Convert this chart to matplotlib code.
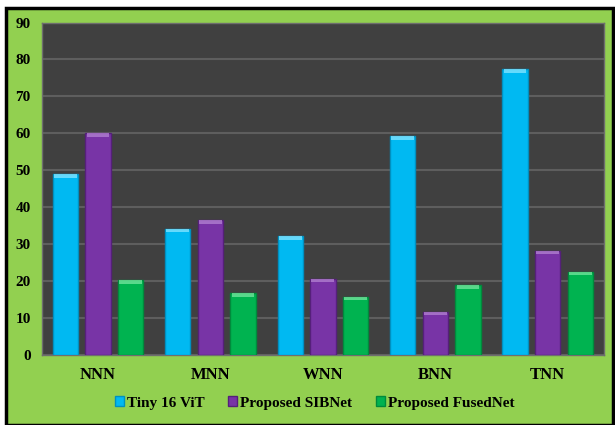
import numpy as np
import matplotlib.pyplot as plt
from matplotlib.patches import Rectangle

# Datos del grafico
categorias = ['NNN', 'MNN', 'WNN', 'BNN', 'TNN']
tiny_vit = [49.0, 34.2, 32.2, 59.2, 77.3]
sibnet = [60.0, 36.4, 20.6, 11.7, 28.2]
fusednet = [20.3, 16.8, 15.8, 18.8, 22.5]
series = ['Tiny 16 ViT', 'Proposed SIBNet', 'Proposed FusedNet']
yticks = [0, 10, 20, 30, 40, 50, 60, 70, 80, 90]

colores = ['#00B9F2', '#7834A6', '#00B350']
bordes = ['#0090C0', '#55207A', '#008A3C']
brillo = ['#7FE3FF', '#B07ED0', '#6FE39A']

plt.rcParams['font.family'] = ['Liberation Serif', 'DejaVu Serif']
plt.rcParams['font.weight'] = 'bold'

fig = plt.figure(figsize=(6.15, 4.25), dpi=100)
fig.patch.set_facecolor('white')
# fondo verde con marco negro
fig.patches.append(Rectangle((0.009, 0.0), 0.987, 0.981, transform=fig.transFigure,
                             facecolor='#92D050', edgecolor='black', linewidth=2.5,
                             zorder=-10))

ax = fig.add_axes([0.068, 0.165, 0.914, 0.782])
ax.set_facecolor('#404040')

x = np.arange(len(categorias))
paso = 0.29
ancho = 0.225
handles = []
for i, valores in enumerate([tiny_vit, sibnet, fusednet]):
    pos = x + (i - 1) * paso
    b = ax.bar(pos, valores, width=ancho, color=colores[i], edgecolor=bordes[i],
               linewidth=1.0, zorder=3, label=series[i])
    # tapa superior con brillo
    ax.bar(pos, [1.0] * len(valores), bottom=np.array(valores) - 1.0, width=ancho * 0.9,
           color=brillo[i], linewidth=0, zorder=4, alpha=0.8)
    handles.append(b)

ax.set_xlim(-0.5, 4.5)
ax.set_ylim(0, 90)
ax.set_yticks(yticks)
ax.set_yticklabels([str(v) for v in yticks], fontsize=11, fontweight='bold')
ax.set_xticks(x)
ax.set_xticklabels(categorias, fontsize=12, fontweight='bold')
ax.tick_params(length=0, pad=9)
ax.tick_params(axis='y', pad=8)
ax.grid(axis='y', color='#5E5E5E', linewidth=1.5, zorder=1)
ax.set_axisbelow(True)
for s in ax.spines.values():
    s.set_color('#6E6E6E')
    s.set_linewidth(1.0)

fig.legend(handles=handles, labels=series, loc='center', bbox_to_anchor=(0.512, 0.052),
           ncol=3, frameon=False, handlelength=0.6, handleheight=0.6,
           handletextpad=0.2, columnspacing=1.55, prop={'weight': 'bold', 'size': 11})

fig.savefig('out.png', dpi=100, facecolor=fig.get_facecolor())
